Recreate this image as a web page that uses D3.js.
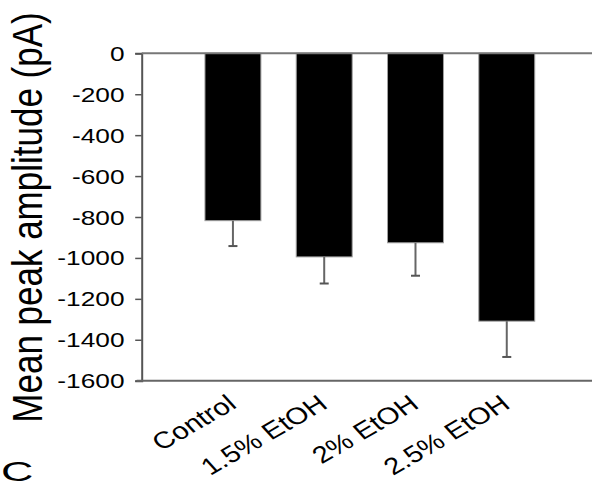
<!DOCTYPE html>
<html>
<head>
<meta charset="utf-8">
<script src="https://cdn.jsdelivr.net/npm/d3@7/dist/d3.min.js"></script>
<style>
  html, body { margin: 0; padding: 0; background: #fff; }
  svg { display: block; }
  text { font-family: "Liberation Sans", Arial, sans-serif; fill: #000; }
</style>
</head>
<body>
<script>
const categories = ["Control", "1.5% EtOH", "2% EtOH", "2.5% EtOH"];
const means = [-818, -995, -926, -1309];
const errors = [124, 130, 161, 175];
const yTicks = [0, -200, -400, -600, -800, -1000, -1200, -1400, -1600];
const yTitle = "Mean peak amplitude (pA)";
const panelLabel = "C";

(function () {
const W = 592, H = 487;
const pLeft = 141.7, pRight = 598, pTop = 53.3, pBottom = 380.7;
const sx = 1.25; // horizontal stretch of the original figure

const svg = d3.select("body").append("svg").attr("width", W).attr("height", H);

const x = d3.scaleBand().domain(categories).range([pLeft, pRight])
  .paddingInner(0.387).paddingOuter(0.693);
const y = d3.scaleLinear().domain([-1600, 0]).range([pBottom, pTop]);

const data = categories.map((c, i) => ({ c, m: means[i], e: errors[i] }));

// bars
svg.selectAll("rect.bar").data(data).enter().append("rect")
  .attr("class", "bar")
  .attr("x", d => x(d.c))
  .attr("width", x.bandwidth())
  .attr("y", y(0))
  .attr("height", d => y(d.m) - y(0))
  .attr("fill", "#000")
  .attr("stroke", "#a0a0a0")
  .attr("stroke-width", 1);

// error bars
const eb = svg.selectAll("g.err").data(data).enter().append("g").attr("class", "err");
eb.append("line")
  .attr("x1", d => x(d.c) + x.bandwidth() / 2)
  .attr("x2", d => x(d.c) + x.bandwidth() / 2)
  .attr("y1", d => y(d.m))
  .attr("y2", d => y(d.m - d.e))
  .attr("stroke", "#666").attr("stroke-width", 2);
eb.append("line")
  .attr("x1", d => x(d.c) + x.bandwidth() / 2 - 4.5)
  .attr("x2", d => x(d.c) + x.bandwidth() / 2 + 4.5)
  .attr("y1", d => y(d.m - d.e))
  .attr("y2", d => y(d.m - d.e))
  .attr("stroke", "#555").attr("stroke-width", 2);

// y axis
const yAxis = d3.axisLeft(y).tickValues(yTicks).tickSize(6.5).tickFormat("");
const ya = svg.append("g").attr("transform", `translate(${pLeft},0)`).call(yAxis);
ya.select(".domain").attr("stroke", "#555").attr("stroke-width", 2);
ya.selectAll(".tick line").attr("stroke", "#555").attr("stroke-width", 1.5);

// tick labels (stretched, ASCII hyphen)
svg.selectAll("text.ytl").data(yTicks).enter().append("text")
  .attr("class", "ytl")
  .attr("transform", d => `translate(124.5,${y(d)}) scale(${sx},1)`)
  .attr("text-anchor", "end")
  .attr("dy", "0.36em")
  .style("font-size", "21px")
  .text(d => String(d));

// top (zero) line and bottom axis line
svg.append("line").attr("x1", pLeft).attr("x2", W).attr("y1", y(0)).attr("y2", y(0))
  .attr("stroke", "#777").attr("stroke-width", 2);
const xAxis = d3.axisBottom(x).tickSize(0).tickFormat("");
const xa = svg.append("g").attr("transform", `translate(0,${y(-1600)})`).call(xAxis);
xa.select(".domain").attr("d", `M${pLeft - 5},0H${W}`).attr("stroke", "#666").attr("stroke-width", 2);

// x labels
svg.selectAll("text.xtl").data(categories).enter().append("text")
  .attr("class", "xtl")
  .attr("transform", d => `translate(${x(d) + x.bandwidth() / 2 + 5},407) scale(${sx},1) rotate(-36)`)
  .attr("text-anchor", "end")
  .style("font-size", "23.5px")
  .text(d => d);

// y title
svg.append("text")
  .attr("transform", `translate(42,217.5) scale(1.2,1) rotate(-90)`)
  .attr("text-anchor", "middle")
  .style("font-size", "35px")
  .text(yTitle);

// partial panel label (kept inside the frame)
svg.append("text")
  .attr("transform", `translate(1,480.5) scale(1.6,1)`)
  .style("font-size", "28px")
  .text(panelLabel);
})();
</script>
</body>
</html>
